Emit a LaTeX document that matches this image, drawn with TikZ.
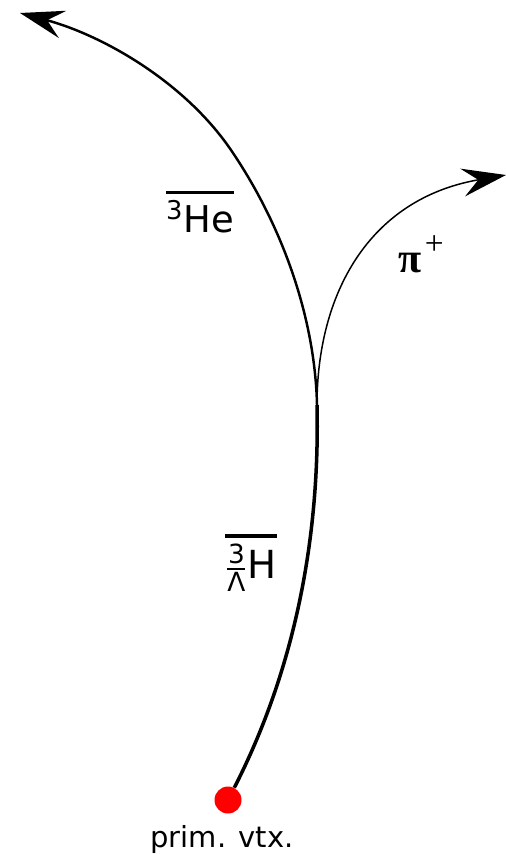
\documentclass[tikz,border=0pt]{standalone}
\usepackage{amsmath}
\usepackage{fontspec}
\setmainfont{DejaVu Sans}
\newfontfamily\pifont{Liberation Serif}
\usetikzlibrary{arrows.meta}

\newcommand{\antibar}[1]{\leavevmode\vbox{\hrule height 2.2pt\kern 3.5pt\hbox{#1}}}
\newcommand{\prescr}{\fontsize{15}{15}\selectfont}

\begin{document}
\begin{tikzpicture}[
  x=0.2mm, y=-0.2mm,
  every node/.style={font=\fontsize{21}{25}\selectfont},
  lbl/.style={inner sep=0pt},
  vertex/.style={circle, fill=red, minimum size=5.4mm, inner sep=0pt},
  mother/.style={line width=2pt},
  track/.style={line width=1.4pt},
  pion/.style={line width=0.85pt},
  tip/.style={-{Stealth[length=25pt, width=16pt, inset=9pt]}}
]
\useasboundingbox (0,0) rectangle (506,854);

\node[vertex] (pv) at (228,800) {};
\node[lbl, font=\fontsize{16.5}{20}\selectfont] (pvlbl) at (222,839) {prim. vtx.};

\coordinate (decay) at (317,405);
\coordinate (heMid) at (233,153);
\coordinate (heEnd) at (20,13);
\coordinate (piEnd) at (506,175);

% tracks
\draw[mother] (pv) .. controls (295,669) and (320,537) .. (decay);
\draw[track, tip] (decay) .. controls (315,317) and (282,226) .. (heMid)
  .. controls (186,82) and (102,35) .. (heEnd);
\draw[pion, tip] (decay) .. controls (317,295) and (368,199) .. (piEnd);

% labels
\node[lbl] (helbl) at (200,212) {\antibar{\textsuperscript{3}He}};
\node[lbl, font=\fontsize{22}{26}\selectfont] (hyplbl) at (251,563)
  {\antibar{$\genfrac{}{}{1.2pt}{}{\hbox{\prescr 3}}{\hbox{\prescr Λ}}$H}};
\node[lbl, font=\fontsize{24}{28}\pifont] (pilbl) at (421,254)
  {\textbf{π}\kern2pt\raisebox{0.42em}{\fontsize{19}{19}\selectfont +}};

\end{tikzpicture}
\end{document}
